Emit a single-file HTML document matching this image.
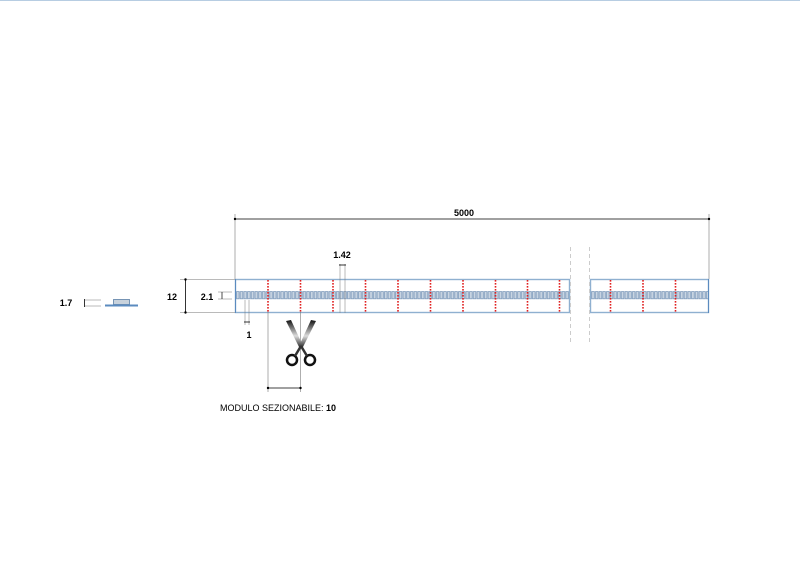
<!DOCTYPE html>
<html><head><meta charset="utf-8"><style>
html,body{margin:0;padding:0;background:#fff;}
svg{display:block;font-family:"Liberation Sans",sans-serif;}
</style></head><body>
<svg width="800" height="566" viewBox="0 0 800 566" xmlns="http://www.w3.org/2000/svg">
<defs>
<pattern id="chips" x="236" y="291" width="3.7" height="9" patternUnits="userSpaceOnUse">
<rect x="0.5" y="0.6" width="2.6" height="7.2" fill="#c9d5e2" stroke="#7d9abb" stroke-width="0.8"/>
</pattern>
<linearGradient id="sg" x1="0" y1="0" x2="0" y2="1">
<stop offset="0" stop-color="#111"/><stop offset="0.55" stop-color="#ddd"/><stop offset="1" stop-color="#111"/>
</linearGradient>
</defs>
<line x1="0" y1="0.5" x2="800" y2="0.5" stroke="#b7cde2" stroke-width="1"/>

<!-- 5000 dimension -->
<line x1="235" y1="214" x2="235" y2="279" stroke="#777" stroke-width="0.6"/>
<line x1="709" y1="214" x2="709" y2="279" stroke="#777" stroke-width="0.6"/>
<line x1="235" y1="219" x2="709" y2="219" stroke="#000" stroke-width="0.8"/>
<circle cx="235" cy="219" r="1.2"/><circle cx="709" cy="219" r="1.2"/>
<text x="464" y="216" font-size="9" font-weight="bold" text-anchor="middle">5000</text>

<!-- strip -->
<rect x="235.5" y="279.5" width="334" height="33" fill="#fff" stroke="#8fb0d0" stroke-width="1.4"/>
<rect x="590.5" y="279.5" width="118" height="33" fill="#fff" stroke="#8fb0d0" stroke-width="1.4"/>
<line x1="235.5" y1="279" x2="235.5" y2="313" stroke="#5b8bbf" stroke-width="1"/>
<line x1="708.5" y1="279" x2="708.5" y2="313" stroke="#5b8bbf" stroke-width="1"/>
<rect x="236" y="291" width="333" height="9" fill="url(#chips)"/>
<rect x="591" y="291" width="117" height="9" fill="url(#chips)"/>
<g stroke="#e02020" stroke-width="1.6" stroke-dasharray="1.6,1.4">
<line x1="268" y1="280" x2="268" y2="312"/><line x1="300.5" y1="280" x2="300.5" y2="312"/>
<line x1="333" y1="280" x2="333" y2="312"/><line x1="365.5" y1="280" x2="365.5" y2="312"/>
<line x1="398" y1="280" x2="398" y2="312"/><line x1="430.5" y1="280" x2="430.5" y2="312"/>
<line x1="463" y1="280" x2="463" y2="312"/><line x1="495.5" y1="280" x2="495.5" y2="312"/>
<line x1="527.5" y1="280" x2="527.5" y2="312"/><line x1="559.5" y1="280" x2="559.5" y2="312"/>
<line x1="610.5" y1="280" x2="610.5" y2="312"/><line x1="643" y1="280" x2="643" y2="312"/>
<line x1="675.5" y1="280" x2="675.5" y2="312"/>
</g>
<g stroke="#ccc" stroke-width="1" stroke-dasharray="4,3">
<line x1="570.5" y1="247" x2="570.5" y2="345"/><line x1="589.5" y1="247" x2="589.5" y2="345"/>
</g>

<!-- 12 -->
<line x1="180" y1="279.5" x2="235" y2="279.5" stroke="#777" stroke-width="0.6"/>
<line x1="180" y1="312.5" x2="235" y2="312.5" stroke="#777" stroke-width="0.6"/>
<line x1="185.5" y1="279.5" x2="185.5" y2="312.5" stroke="#000" stroke-width="0.8"/>
<circle cx="185.5" cy="279.5" r="1.2"/><circle cx="185.5" cy="312.5" r="1.2"/>
<text x="172" y="300" font-size="9" font-weight="bold" text-anchor="middle">12</text>

<!-- 2.1 -->
<line x1="218" y1="292" x2="232" y2="292" stroke="#777" stroke-width="0.5"/>
<line x1="218" y1="299" x2="232" y2="299" stroke="#777" stroke-width="0.5"/>
<line x1="222" y1="292" x2="222" y2="299" stroke="#000" stroke-width="0.7"/>
<text x="207" y="300" font-size="9" font-weight="bold" text-anchor="middle">2.1</text>

<!-- 1 -->
<line x1="245" y1="300" x2="245" y2="325" stroke="#777" stroke-width="0.5"/>
<line x1="249" y1="300" x2="249" y2="325" stroke="#777" stroke-width="0.5"/>
<line x1="244" y1="322" x2="250" y2="322" stroke="#000" stroke-width="0.8"/>
<text x="249" y="338" font-size="9" font-weight="bold" text-anchor="middle">1</text>

<!-- 1.42 -->
<line x1="340" y1="264" x2="340" y2="313" stroke="#777" stroke-width="0.5"/>
<line x1="345" y1="264" x2="345" y2="313" stroke="#777" stroke-width="0.5"/>
<line x1="339" y1="265" x2="346" y2="265" stroke="#000" stroke-width="0.8"/>
<text x="342" y="258" font-size="9" font-weight="bold" text-anchor="middle">1.42</text>

<!-- module -->
<line x1="268" y1="312" x2="268" y2="392" stroke="#777" stroke-width="0.6"/>
<line x1="300.5" y1="312" x2="300.5" y2="392" stroke="#777" stroke-width="0.6"/>
<line x1="268" y1="388" x2="300.5" y2="388" stroke="#000" stroke-width="0.8"/>
<circle cx="268" cy="388" r="1.2"/><circle cx="300.5" cy="388" r="1.2"/>
<text x="220" y="411" font-size="9">MODULO SEZIONABILE: <tspan font-weight="bold">10</tspan></text>

<!-- scissors -->
<g>
<path d="M286 321 L300 349 L303 346 L291 320 Z" fill="url(#sg)"/>
<path d="M316 321 L302 349 L299 346 L311 320 Z" fill="url(#sg)"/>
<circle cx="292" cy="360" r="5" fill="none" stroke="#111" stroke-width="2.5"/>
<circle cx="310" cy="360" r="5" fill="none" stroke="#111" stroke-width="2.5"/>
<path d="M295 356 L301 346 M307 356 L301 346" stroke="#333" stroke-width="2.5"/>
</g>

<!-- side profile 1.7 -->
<text x="66" y="306" font-size="9" font-weight="bold" text-anchor="middle">1.7</text>
<line x1="85" y1="300" x2="101" y2="300" stroke="#777" stroke-width="0.5"/>
<line x1="85" y1="306" x2="101" y2="306" stroke="#777" stroke-width="0.5"/>
<line x1="84.5" y1="299" x2="84.5" y2="307" stroke="#000" stroke-width="0.8"/>
<rect x="113.5" y="299.5" width="16" height="5" fill="#c8d2dc" stroke="#5b7fa6" stroke-width="0.8"/>
<rect x="105" y="304.5" width="33" height="2" fill="#5b8bbf"/>
</svg>
</body></html>
